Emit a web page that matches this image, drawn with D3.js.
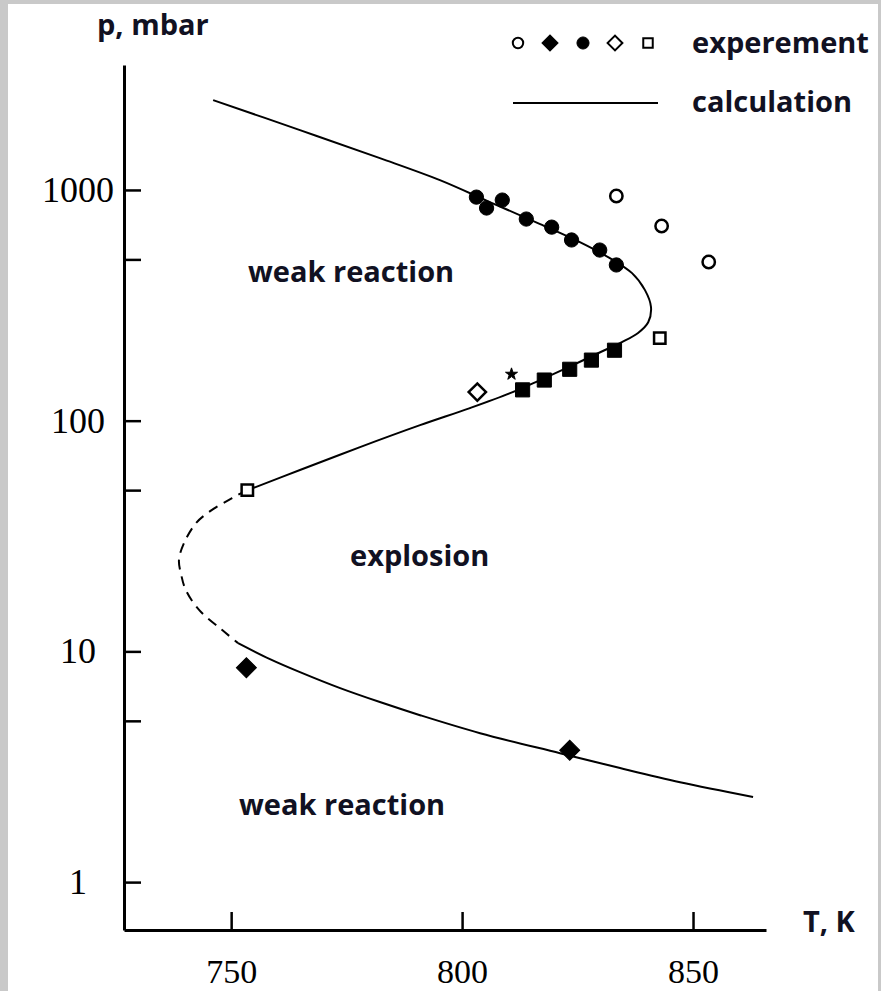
<!DOCTYPE html>
<html>
<head>
<meta charset="utf-8">
<script src="https://cdn.jsdelivr.net/npm/d3@7"></script>
<style>
  body { margin: 0; background: #fff; }
  .lbl { font-family: "Open Sans", "Noto Sans", sans-serif; font-weight: 700; font-size: 29px; fill: #111122; }
  .axis text { font-family: "Liberation Serif", "Times New Roman", serif; font-size: 36px; fill: #000; }
  .axis path, .axis line { stroke: #000; }
</style>
</head>
<body>
<div id="chart"></div>
<script>
var width = 881;
var height = 991;

// experiment points: [T in K, p in mbar]
var filledCircles = [[803.1,931],[805.3,835],[808.7,904],[813.9,748],[819.4,690],[823.7,607],[829.8,549],[833.4,473]];
var openCircles = [[833.4,941],[843.2,698],[853.4,487]];
var filledSquares = [[813.1,136],[817.8,150],[823.3,167],[828.0,183],[833.0,202]];
var openSquares = [[753.5,50],[842.8,228]];
var openDiamonds = [[803.3,133]];
var stars = [[810.7,159]];
var filledDiamonds = [[753.3,8.5],[823.3,3.73]];

// calculated explosion limit
var calcUpper = [[746.1,2452],[764.9,1817],[782.2,1374],[795.2,1103],[806.0,886],[816.9,711],
  [825.5,594],[832.0,506],[836.8,436],[839.6,368],[840.9,311],[840.3,267],[838.1,240],[834.6,219],
  [829.9,198],[823.4,172],[816.9,150],[810.4,131.6],[801.7,113.4],[790.9,95.6],[777.9,76.8],
  [764.9,61.1],[754.7,51.0],[753.5,50]];
var calcDashed = [[753.5,50],[750.2,46.2],[745.2,40.2],[742.4,36.0],[739.8,29.5],[738.7,24.9],
  [739.2,21.4],[740.2,18.4],[743.1,15.1],[748.0,12.4],[751.5,10.86]];
var calcLower = [[751.5,10.86],[758.4,9.26],[764.9,8.13],[773.6,6.93],[782.2,6.03],[790.9,5.29],
  [803.9,4.42],[821.2,3.62],[834.2,3.12],[847.2,2.71],[863.0,2.34]];

var xTicks = [750, 800, 850];
var yTicks = [1, 5, 10, 50, 100, 500, 1000];
var yLabels = [1, 10, 100, 1000];

var svg = d3.select("#chart")
  .append("svg")
  .attr("width", width)
  .attr("height", height);

svg.append("rect").attr("width", width).attr("height", height).attr("fill", "#fff");
// scan frame
svg.append("rect").attr("x", 0).attr("y", 0).attr("width", 8).attr("height", height).attr("fill", "#c9c9c9");
svg.append("rect").attr("x", 0).attr("y", 0).attr("width", width).attr("height", 4).attr("fill", "#c9c9c9");
svg.append("rect").attr("x", width - 3).attr("y", 0).attr("width", 3).attr("height", height).attr("fill", "#c9c9c9");

var xScale = d3.scaleLinear()
  .domain([726.8, 865.8])
  .range([124, 766]);

var yScale = d3.scaleLog()
  .domain([0.62, 3480])
  .range([930, 65]);

var xAxis = svg.append("g")
  .attr("class", "axis")
  .attr("transform", "translate(0,930)")
  .call(d3.axisBottom(xScale)
    .tickValues(xTicks)
    .tickSizeInner(-18)
    .tickSizeOuter(0)
    .tickPadding(29)
    .tickFormat(d3.format("d")));
xAxis.select(".domain").attr("stroke-width", 3);
xAxis.selectAll(".tick line").attr("stroke-width", 2.5);
xAxis.selectAll(".tick text").style("font-size", "34px");

var yAxis = svg.append("g")
  .attr("class", "axis")
  .attr("transform", "translate(124,0)")
  .call(d3.axisLeft(yScale)
    .tickValues(yTicks)
    .tickSizeInner(-17)
    .tickSizeOuter(0)
    .tickPadding(46)
    .tickFormat(function(d) { return yLabels.indexOf(d) >= 0 ? d : ""; }));
yAxis.select(".domain").attr("stroke-width", 3);
yAxis.selectAll(".tick line").attr("stroke-width", 2.5);
yAxis.selectAll(".tick text").attr("text-anchor", "middle");

var line = d3.line()
  .x(function(d) { return xScale(d[0]); })
  .y(function(d) { return yScale(d[1]); })
  .curve(d3.curveCatmullRom.alpha(0.5));

svg.append("path").datum(calcUpper)
  .attr("d", line).attr("fill", "none").attr("stroke", "#000").attr("stroke-width", 2);
svg.append("path").datum(calcDashed)
  .attr("d", line).attr("fill", "none").attr("stroke", "#000").attr("stroke-width", 2)
  .attr("stroke-dasharray", "10,7");
svg.append("path").datum(calcLower)
  .attr("d", line).attr("fill", "none").attr("stroke", "#000").attr("stroke-width", 2);

function drawPoints(data, type, size, filled, rotate) {
  svg.append("g").selectAll("path")
    .data(data)
    .enter()
    .append("path")
      .attr("d", d3.symbol().type(type).size(size))
      .attr("transform", function(d) {
        return "translate(" + xScale(d[0]) + "," + yScale(d[1]) + ")" + (rotate ? " rotate(45)" : "");
      })
      .attr("fill", filled ? "#000" : "#fff")
      .attr("stroke", "#000")
      .attr("stroke-width", filled ? 1 : 2.5);
}

drawPoints(openCircles, d3.symbolCircle, 120, false, false);
drawPoints(filledCircles, d3.symbolCircle, 160, true, false);
drawPoints(filledSquares, d3.symbolSquare, 200, true, false);
drawPoints(openSquares, d3.symbolSquare, 130, false, false);
drawPoints(openDiamonds, d3.symbolSquare, 150, false, true);
drawPoints(filledDiamonds, d3.symbolSquare, 200, true, true);
drawPoints(stars, d3.symbolStar, 45, true, false);

// legend
var legend = svg.append("g");
var legendSymbols = [
  {x: 518, type: d3.symbolCircle, size: 85, filled: false, rotate: false},
  {x: 550, type: d3.symbolSquare, size: 130, filled: true, rotate: true},
  {x: 583, type: d3.symbolCircle, size: 115, filled: true, rotate: false},
  {x: 615, type: d3.symbolSquare, size: 110, filled: false, rotate: true},
  {x: 648, type: d3.symbolSquare, size: 90, filled: false, rotate: false}
];
legend.selectAll("path")
  .data(legendSymbols)
  .enter()
  .append("path")
    .attr("d", function(d) { return d3.symbol().type(d.type).size(d.size)(); })
    .attr("transform", function(d) { return "translate(" + d.x + ",43)" + (d.rotate ? " rotate(45)" : ""); })
    .attr("fill", function(d) { return d.filled ? "#000" : "#fff"; })
    .attr("stroke", "#000")
    .attr("stroke-width", function(d) { return d.filled ? 1 : 2; });
legend.append("line")
  .attr("x1", 513).attr("x2", 658).attr("y1", 103).attr("y2", 103)
  .attr("stroke", "#000").attr("stroke-width", 2);
legend.append("text").attr("class", "lbl").attr("x", 692).attr("y", 53).text("experement");
legend.append("text").attr("class", "lbl").attr("x", 692).attr("y", 112).text("calculation");

// labels
svg.append("text").attr("class", "lbl").attr("x", 97).attr("y", 35).text("p, mbar");
svg.append("text").attr("class", "lbl").attr("x", 803).attr("y", 932).text("T, K");
svg.append("text").attr("class", "lbl").attr("x", 248).attr("y", 282).text("weak reaction");
svg.append("text").attr("class", "lbl").attr("x", 350).attr("y", 566).text("explosion");
svg.append("text").attr("class", "lbl").attr("x", 239).attr("y", 815).text("weak reaction");
</script>
</body>
</html>
